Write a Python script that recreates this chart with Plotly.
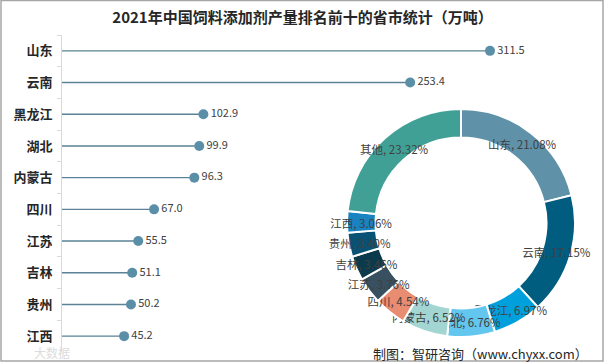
import plotly.graph_objects as go

provinces = ["山东", "云南", "黑龙江", "湖北", "内蒙古", "四川", "江苏", "吉林", "贵州", "江西"]
output = [311.5, 253.4, 102.9, 99.9, 96.3, 67.0, 55.5, 51.1, 50.2, 45.2]

share_labels = ["山东", "云南", "黑龙江", "湖北", "内蒙古", "四川", "江苏", "吉林", "贵州", "江西", "其他"]
share_values = [21.08, 17.15, 6.97, 6.76, 6.52, 4.54, 3.76, 3.46, 3.40, 3.06, 23.32]
share_colors = ["#5f92a8", "#005d80", "#00a0dc", "#63c6ee", "#a3d6d3", "#e88c72",
                "#38505f", "#0b3a4c", "#0a5274", "#1883bf", "#41a095"]

W, H = 605, 364
FONT = "Noto Sans CJK SC"

fig = go.Figure()

fig.add_trace(go.Scatter(
    x=output, y=provinces, mode="markers+text",
    marker=dict(size=10, color="#5b8fa8"),
    text=[f"{v:.1f}" for v in output], textposition="middle right",
    textfont=dict(size=11, color="#404040", family=FONT),
    error_x=dict(type="data", symmetric=False, array=[0] * len(output),
                 arrayminus=output, color="#5b8296", thickness=1.4, width=0),
    cliponaxis=False, showlegend=False, hoverinfo="skip",
))

fig.add_trace(go.Pie(
    labels=share_labels, values=share_values, sort=False, direction="clockwise",
    rotation=0, hole=0.75,
    marker=dict(colors=share_colors, line=dict(color="white", width=2)),
    texttemplate="%{label}, %{value:.2f}%", textposition="inside",
    insidetextorientation="horizontal",
    textfont=dict(size=11.5, color="#404040", family=FONT),
    domain=dict(x=[(461 - 114) / W, (461 + 114) / W], y=[(141 - 114) / H, (141 + 114) / H]),
    showlegend=False, hoverinfo="skip",
))

x_left = 62 / W
px_per_unit = (490 - 62) / 311.5
fig.update_layout(
    width=W, height=H, margin=dict(l=0, r=0, t=0, b=0, autoexpand=False),
    paper_bgcolor="white", plot_bgcolor="white",
    font=dict(family=FONT),
    uniformtext=dict(minsize=11.5, mode="show"),
    xaxis=dict(domain=[x_left, 1], range=[0, (W - 62) / px_per_unit],
               visible=False, showgrid=False, zeroline=False, automargin=False),
    yaxis=dict(domain=[1 - 352 / H, 1 - 35 / H], range=[len(provinces) - 0.5, -0.5],
               type="category",
               showline=True, linecolor="#d9d9d9", linewidth=1,
               ticks="outside", tickson="boundaries", ticklen=4, tickcolor="#d9d9d9",
               showgrid=False, zeroline=False, automargin=False,
               tickfont=dict(size=13, color="#262626", family=FONT, weight="bold"),
               ticklabelstandoff=6),
    title=dict(text="<b>2021年中国饲料添加剂产量排名前十的省市统计（万吨）</b>",
               x=0.5, xanchor="center", y=1 - 18 / H, yanchor="middle",
               xref="paper", yref="container", automargin=False,
               font=dict(size=15, color="#262626", family=FONT)),
    annotations=[
        dict(text="制图：智研咨询（www.chyxx.com）", xref="paper", yref="paper",
             x=590 / W, y=1 - 353 / H, xanchor="right", yanchor="middle",
             showarrow=False, font=dict(size=13, color="#262626", family=FONT)),
        dict(text="大数据", xref="paper", yref="paper",
             x=32 / W, y=1 - 352 / H, xanchor="left", yanchor="middle",
             showarrow=False, font=dict(size=12, color="#dcdcdc", family=FONT)),
    ],
    shapes=[dict(type="rect", xref="paper", yref="paper",
                 x0=1 / W, x1=1 - 2 / W, y0=1 - 361 / H, y1=1 - 0.5 / H,
                 line=dict(color="#a6a6a6", width=1.5))],
)

fig.write_html(
    "out.html",
    config={"displayModeBar": False},
    post_script="document.body.style.margin='0';document.body.style.overflow='hidden';",
)
